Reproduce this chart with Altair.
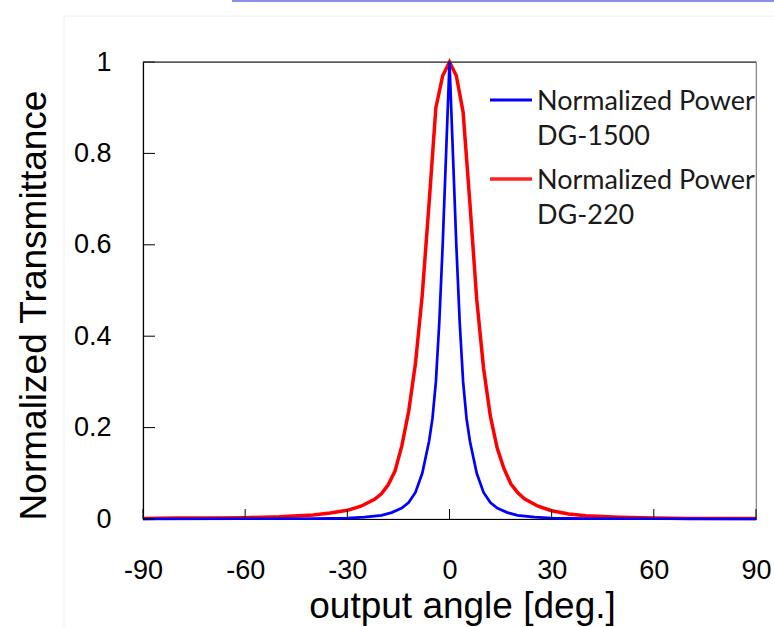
import altair as alt
import pandas as pd

# ---- data ----
red_angle = [-90, -80, -70, -60, -50, -40, -35, -30, -26, -22, -20, -18, -16, -14, -12, -10, -8, -6, -4, -2, 0,
             2, 4, 6, 8, 10, 12, 14, 16, 18, 20, 22, 26, 30, 35, 40, 50, 60, 70, 80, 90]
red_value = [0.001, 0.002, 0.002, 0.003, 0.005, 0.009, 0.013, 0.019, 0.028, 0.043, 0.055, 0.075, 0.105, 0.16, 0.235, 0.34, 0.49, 0.69, 0.90, 0.97, 1.0,
             0.97, 0.89, 0.69, 0.48, 0.33, 0.225, 0.155, 0.11, 0.077, 0.058, 0.044, 0.028, 0.018, 0.011, 0.007, 0.004, 0.002, 0.001, 0.001, 0.001]

blue_angle = [-90, -60, -40, -30, -25, -20, -17, -14, -12, -10, -8, -6, -5, -4, -3, -2, -1, 0,
              1, 2, 3, 4, 5, 6, 8, 10, 12, 14, 17, 20, 25, 30, 40, 60, 90]
blue_value = [0.0, 0.0005, 0.001, 0.002, 0.004, 0.008, 0.014, 0.024, 0.036, 0.058, 0.10, 0.17, 0.22, 0.30, 0.43, 0.60, 0.80, 1.0,
              0.80, 0.60, 0.43, 0.30, 0.22, 0.17, 0.10, 0.058, 0.036, 0.024, 0.014, 0.008, 0.004, 0.002, 0.001, 0.0005, 0.0]

x_ticks = [-90, -60, -30, 0, 30, 60, 90]
y_ticks = [0, 0.2, 0.4, 0.6, 0.8, 1]

series_names = ["DG-1500", "DG-220"]
legend_line1 = ["Normalized Power", "Normalized Power"]
legend_line2 = ["DG-1500", "DG-220"]

W, H = 613, 457
AXIS_FONT = "Liberation Sans"
LEG_FONT = "Lato"

red_df = pd.DataFrame({"angle": red_angle, "value": red_value, "series": series_names[1]})
blue_df = pd.DataFrame({"angle": blue_angle, "value": blue_value, "series": series_names[0]})

xscale = alt.Scale(domain=[-90, 90], nice=False, zero=False)
yscale = alt.Scale(domain=[0, 1], nice=False)

x_axis = alt.Axis(values=x_ticks, grid=False, ticks=False, domainColor="black", domainWidth=1.2,
                  labelExpr="'' + datum.value", labelFlush=False,
                  labelFont=AXIS_FONT, labelFontSize=27, labelColor="black", labelBaseline="middle",
                  labelPadding=51, title="output angle [deg.]", titleFont=AXIS_FONT, titleFontSize=37,
                  titleFontWeight="normal", titleColor="black", titleX=319, titleY=87,
                  titleBaseline="middle", titleAlign="center")
y_axis = alt.Axis(values=y_ticks, grid=False, ticks=False, domainColor="black", domainWidth=1.2,
                  labelExpr="'' + datum.value", labelFlush=False, labelFont=AXIS_FONT, labelFontSize=27,
                  labelColor="black", labelPadding=32, title="Normalized Transmittance", titleFont=AXIS_FONT,
                  titleFontSize=37, titleFontWeight="normal", titleColor="black", titleX=-109,
                  titleY=243, titleAngle=-90, titleBaseline="middle", titleAlign="center")

red_line = alt.Chart(red_df).mark_line(color="#ff0000", strokeWidth=3.5).encode(
    x=alt.X("angle:Q", scale=xscale, axis=x_axis),
    y=alt.Y("value:Q", scale=yscale, axis=y_axis),
)
blue_line = alt.Chart(blue_df).mark_line(color="#0000ff", strokeWidth=2.7).encode(
    x=alt.X("angle:Q", scale=xscale),
    y=alt.Y("value:Q", scale=yscale),
)

# inward ticks
xt = alt.Chart(pd.DataFrame({"t": x_ticks})).mark_rule(color="black", strokeWidth=1).encode(
    x=alt.X("t:Q", scale=xscale), y=alt.value(H), y2=alt.value(H - 10))
yt = alt.Chart(pd.DataFrame({"t": y_ticks})).mark_rule(color="black", strokeWidth=1).encode(
    y=alt.Y("t:Q", scale=yscale), x=alt.value(0), x2=alt.value(12))

# top frame line
top = alt.Chart(pd.DataFrame({"v": [1]})).mark_rule(color="#333333", strokeWidth=1.2).encode(
    y=alt.Y("v:Q", scale=yscale))

# manual legend
leg = []
for i, (col, sw) in enumerate([("#0000ff", 3), ("#ff2020", 3.5)]):
    base_y = 38 + i * 79
    leg.append(alt.Chart(pd.DataFrame({"s": [series_names[i]]})).mark_rule(color=col, strokeWidth=sw).encode(
        x=alt.value(347), x2=alt.value(389), y=alt.value(base_y)))
    leg.append(alt.Chart(pd.DataFrame({"s": [legend_line1[i]]})).mark_text(
        font=LEG_FONT, fontSize=27, color="#1a1a1a", align="left", baseline="alphabetic").encode(
        x=alt.value(394), y=alt.value(base_y + 10), text="s:N"))
    leg.append(alt.Chart(pd.DataFrame({"s": [legend_line2[i]]})).mark_text(
        font=LEG_FONT, fontSize=27, color="#1a1a1a", align="left", baseline="alphabetic").encode(
        x=alt.value(394), y=alt.value(base_y + 45), text="s:N"))

# slide decorations
deco_blue = alt.Chart(pd.DataFrame({"d": [0]})).mark_rule(color="#8a8ee8", strokeWidth=2).encode(
    x=alt.value(89), x2=alt.value(631), y=alt.value(-61))
deco_gray_v = alt.Chart(pd.DataFrame({"d": [0]})).mark_rule(color="#f0f0f0", strokeWidth=1).encode(
    x=alt.value(-79), y=alt.value(-46), y2=alt.value(565))
deco_gray_h = alt.Chart(pd.DataFrame({"d": [0]})).mark_rule(color="#f0f0f0", strokeWidth=1).encode(
    x=alt.value(-79), x2=alt.value(631), y=alt.value(-46))

chart = alt.layer(deco_gray_v, deco_gray_h, deco_blue, red_line, blue_line, xt, yt, top, *leg).properties(
    width=W, height=H,
    autosize=alt.AutoSizeParams(type="none"),
    padding={"left": 143, "top": 62, "right": 18, "bottom": 108},
    background="white",
).configure_view(stroke="#808080", strokeWidth=1.2)

chart.save("out.html", embed_options={"renderer": "svg", "actions": False})
